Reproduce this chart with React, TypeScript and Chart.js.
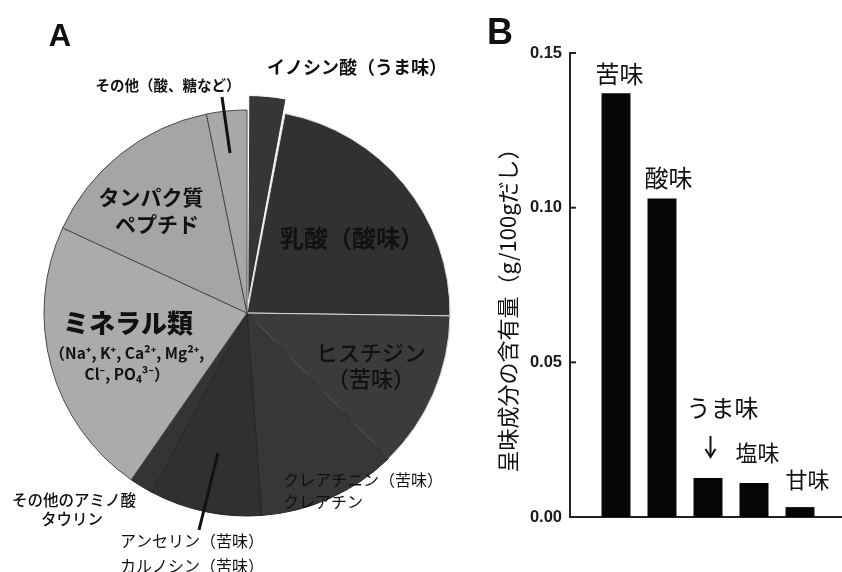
import React, { useEffect, useRef } from 'react';
import { Chart, registerables } from 'chart.js';

Chart.register(...registerables);

// ---------- Panel A data (share of taste components, %) ----------
const pieCategories = [
  'イノシン酸（うま味）',
  '乳酸（酸味）',
  'ヒスチジン（苦味）',
  'クレアチニン・クレアチン（苦味）',
  'アンセリン・カルノシン（苦味）',
  'その他のアミノ酸・タウリン',
  'ミネラル類',
  'タンパク質・ペプチド',
  'その他（酸、糖など）',
];
const pieValues = [3.0, 22.2, 12.5, 11.1, 8.9, 1.9, 22.2, 14.9, 3.2];
const pieExploded = [true, false, false, false, false, false, false, false, false];

// ---------- Panel B data ----------
const tasteCategories = ['苦味', '酸味', 'うま味', '塩味', '甘味'];
const tasteValues = [0.137, 0.103, 0.0126, 0.011, 0.0032];
const yTickValues = [0, 0.05, 0.1, 0.15];
const yAxisTitle = '呈味成分の含有量（g/100gだし）';

const JP = '"Noto Sans CJK JP", "Noto Sans", sans-serif';
const LAT = '"Liberation Sans", Arial, sans-serif';

function drawText(ctx: CanvasRenderingContext2D, s: string, x: number, y: number, font: string, align: CanvasTextAlign = 'center') {
  ctx.font = font;
  ctx.textAlign = align;
  ctx.textBaseline = 'middle';
  ctx.fillStyle = '#111';
  ctx.fillText(s, x, y);
}

function drawLine(ctx: CanvasRenderingContext2D, x1: number, y1: number, x2: number, y2: number, w: number) {
  ctx.beginPath();
  ctx.moveTo(x1, y1);
  ctx.lineTo(x2, y2);
  ctx.lineWidth = w;
  ctx.strokeStyle = '#111';
  ctx.lineCap = 'butt';
  ctx.stroke();
}

export default function App() {
  const pieRef = useRef<HTMLCanvasElement | null>(null);
  const barRef = useRef<HTMLCanvasElement | null>(null);

  useEffect(() => {
    const pieColors = ['#363636', '#313131', '#3b3b3b', '#373737', '#303030', '#343434', '#ababab', '#a5a5a5', '#a8a8a8'];
    const pieBorders = ['#ffffff', '#d8d8d8', '#d8d8d8', '#262626', '#262626', '#262626', '#4a4a4a', '#4a4a4a', '#4a4a4a'];

    const pieLabelPlugin = {
      id: 'pieLabels',
      afterDraw(chart: any) {
        const ctx: CanvasRenderingContext2D = chart.ctx;
        const arc = chart.getDatasetMeta(0).data[1];
        const cx = arc.x;
        const cy = arc.y;
        ctx.save();
        drawText(ctx, 'A', 60, 37, `bold 31px ${LAT}`);
        drawText(ctx, 'イノシン酸（うま味）', cx + 110, cy - 246, `bold 18px ${JP}`);
        drawText(ctx, 'その他（酸、糖など）', cx - 79, cy - 228, `bold 14.5px ${JP}`);
        drawLine(ctx, cx - 25, cy - 216, cx - 17, cy - 160, 3);
        drawText(ctx, 'タンパク質', cx - 96, cy - 116, `bold 21px ${JP}`);
        drawText(ctx, 'ペプチド', cx - 90, cy - 89, `bold 21px ${JP}`);
        drawText(ctx, '乳酸（酸味）', cx + 105, cy - 75, `bold 24px ${JP}`);
        drawText(ctx, 'ミネラル類', cx - 119, cy + 10, `900 26px ${JP}`);
        drawText(ctx, '（Na⁺, K⁺, Ca²⁺, Mg²⁺,', cx - 120, cy + 40, `bold 15.5px ${JP}`);
        drawText(ctx, 'Cl⁻, PO₄³⁻）', cx - 120, cy + 61, `bold 15.5px ${JP}`);
        drawText(ctx, 'ヒスチジン', cx + 124, cy + 40, `500 22px ${JP}`);
        drawText(ctx, '（苦味）', cx + 124, cy + 66, `500 22px ${JP}`);
        drawText(ctx, 'クレアチニン（苦味）', cx + 36, cy + 167, `16px ${JP}`, 'left');
        drawText(ctx, 'クレアチン', cx + 36, cy + 189, `16px ${JP}`, 'left');
        drawText(ctx, 'その他のアミノ酸', cx - 173, cy + 187, `500 15.5px ${JP}`);
        drawText(ctx, 'タウリン', cx - 175, cy + 206, `500 15.5px ${JP}`);
        drawText(ctx, 'アンセリン（苦味）', cx - 55, cy + 228, `16px ${JP}`);
        drawText(ctx, 'カルノシン（苦味）', cx - 55, cy + 253, `16px ${JP}`);
        drawLine(ctx, cx - 48, cy + 217, cx - 29, cy + 140, 3);
        ctx.restore();
      },
    };

    const pie = new Chart(pieRef.current as HTMLCanvasElement, {
      type: 'pie',
      data: {
        labels: pieCategories,
        datasets: [
          {
            data: pieValues,
            backgroundColor: pieColors,
            borderColor: pieBorders,
            borderWidth: 1,
            offset: pieExploded.map((e) => (e ? 32 : 0)),
            radius: 203,
          } as any,
        ],
      },
      options: {
        responsive: false,
        maintainAspectRatio: false,
        animation: false,
        layout: { padding: { top: 54, bottom: 0, left: 0, right: 0 } },
        plugins: { legend: { display: false }, tooltip: { enabled: false } },
      },
      plugins: [pieLabelPlugin],
    });

    const labelLayout = [
      { dx: 3.5, dy: -19, size: 24 },
      { dx: 6.5, dy: -21, size: 24 },
      { dx: 14.5, dy: -70, size: 24 },
      { dx: 3.5, dy: -30, size: 22 },
      { dx: 7.5, dy: -27, size: 22 },
    ];

    const barDecor = {
      id: 'barDecor',
      afterDraw(chart: any) {
        const ctx: CanvasRenderingContext2D = chart.ctx;
        const area = chart.chartArea;
        const ys = chart.scales.y;
        ctx.save();
        yTickValues.forEach((v) => {
          const py = ys.getPixelForValue(v);
          ctx.beginPath();
          ctx.moveTo(area.left, py);
          ctx.lineTo(area.left + 6, py);
          ctx.lineWidth = 2;
          ctx.strokeStyle = '#222';
          ctx.stroke();
        });
        drawText(ctx, 'B', 30, 34, `bold 36px ${LAT}`);
        ctx.save();
        ctx.translate(area.left - 62, (area.top + area.bottom) / 2 + 20);
        ctx.rotate(-Math.PI / 2);
        drawText(ctx, yAxisTitle, 0, 0, `22px ${JP}`);
        ctx.restore();
        const meta = chart.getDatasetMeta(0);
        meta.data.forEach((bar: any, i: number) => {
          const L = labelLayout[i];
          drawText(ctx, tasteCategories[i], bar.x + L.dx, bar.y + L.dy, `${L.size}px ${JP}`);
        });
        const ub = meta.data[2];
        const ax = ub.x + 2.5;
        const y1 = ub.y - 42;
        const y2 = ub.y - 21;
        drawLine(ctx, ax, y1, ax, y2, 2);
        ctx.beginPath();
        ctx.moveTo(ax - 5, y2 - 8);
        ctx.lineTo(ax, y2);
        ctx.lineTo(ax + 5, y2 - 8);
        ctx.lineWidth = 2;
        ctx.strokeStyle = '#111';
        ctx.stroke();
        ctx.restore();
      },
    };

    const bar = new Chart(barRef.current as HTMLCanvasElement, {
      type: 'bar',
      data: {
        datasets: [
          {
            data: tasteValues.map((v, i) => ({ x: i + 1, y: v })),
            backgroundColor: '#050505',
            borderWidth: 0,
            barPercentage: 0.63,
            categoryPercentage: 1,
          } as any,
        ],
      },
      options: {
        responsive: false,
        maintainAspectRatio: false,
        animation: false,
        layout: { padding: { top: 53, bottom: 55, left: 0, right: 0 } },
        plugins: { legend: { display: false }, tooltip: { enabled: false } },
        scales: {
          x: {
            type: 'linear',
            offset: false,
            min: 0,
            max: 5.913,
            ticks: { display: false },
            grid: { display: false, drawTicks: false },
            border: { display: true, color: '#222', width: 2 },
          },
          y: {
            min: 0,
            max: 0.15,
            afterFit: (s: any) => {
              s.width = 100;
            },
            afterBuildTicks: (s: any) => {
              s.ticks = yTickValues.map((v) => ({ value: v }));
            },
            ticks: {
              padding: 8,
              color: '#1a1a1a',
              font: { family: 'Liberation Sans', weight: 'bold', size: 16.5 },
              callback: (v: any) => Number(v).toFixed(2),
            },
            grid: { display: false, drawTicks: false },
            border: { display: true, color: '#222', width: 2 },
          },
        },
      } as any,
      plugins: [barDecor],
    });

    return () => {
      pie.destroy();
      bar.destroy();
    };
  }, []);

  return (
    <div style={{ position: 'absolute', left: 0, top: 0, width: 842, height: 572, background: '#fff', overflow: 'hidden' }}>
      <canvas ref={pieRef} width={494} height={572} style={{ position: 'absolute', left: 0, top: 0 }} />
      <canvas ref={barRef} width={372} height={572} style={{ position: 'absolute', left: 470, top: 0 }} />
    </div>
  );
}
